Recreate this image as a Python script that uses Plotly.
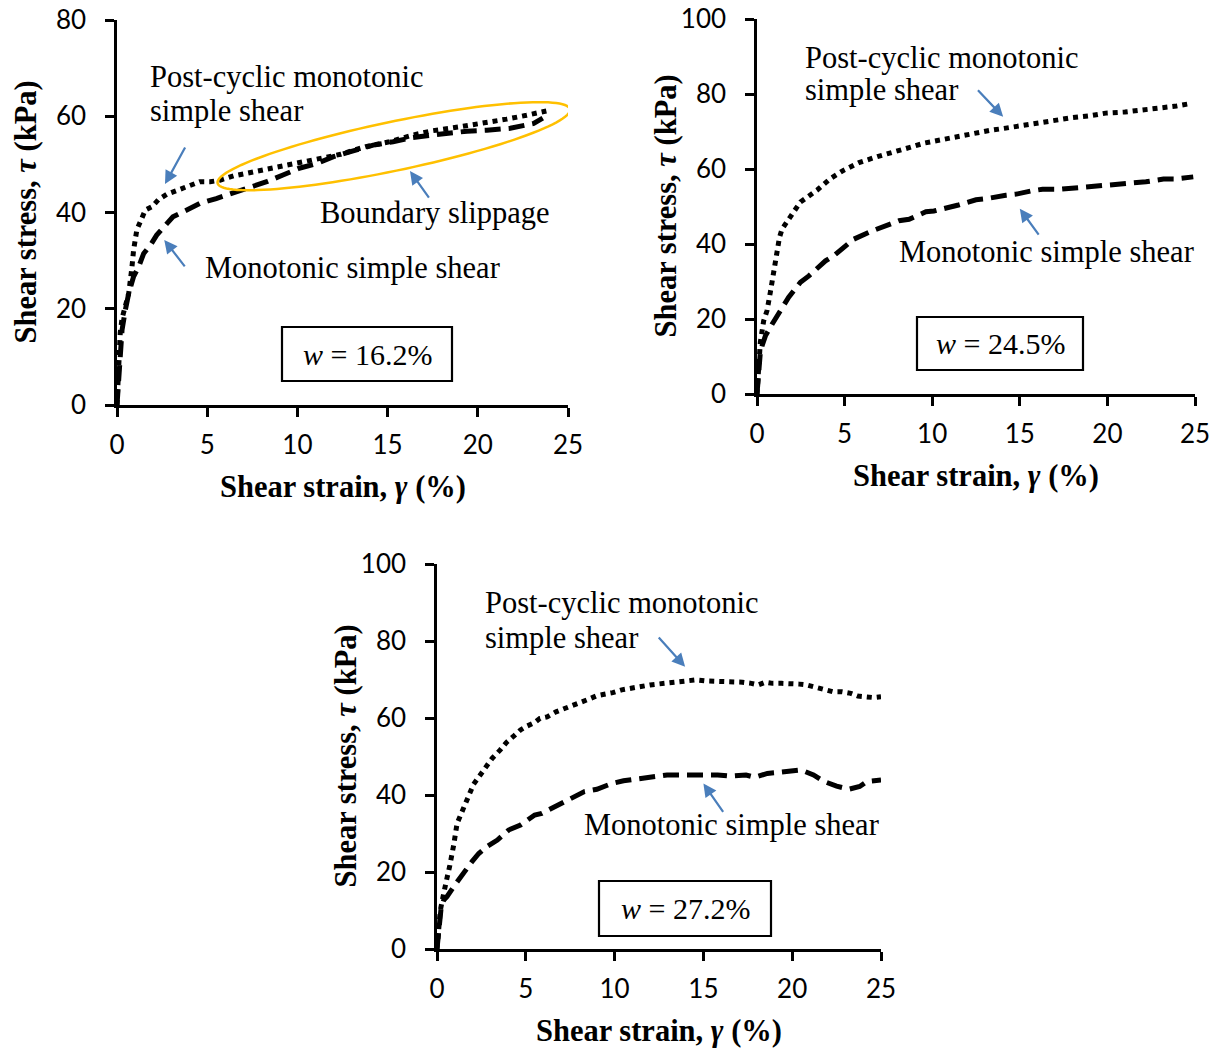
import numpy as np
import plotly.graph_objects as go

# ---------------- data ----------------
# Panel 1: w = 16.2 %
pc1_x = [0, 0.05, 0.09, 0.18, 0.28, 0.46, 0.65, 0.83, 0.92, 1.1, 1.3, 1.57, 1.94, 2.3, 2.77, 3.5, 4.06, 4.6,
         5.17, 5.7, 6.46, 7.4, 8.3, 9.4, 10.1, 11.3, 12.4, 13.8, 15.1, 16.4, 17.5, 19.0, 20.3, 21.6, 22.7, 23.8]
pc1_y = [0, 5, 11.4, 15, 18, 20.8, 23.2, 28.7, 32.2, 36.4, 38.4, 40.5, 41.2, 42.7, 43.8, 44.8, 45.7, 46.4,
         46.4, 46.7, 47.6, 48.3, 48.8, 49.7, 50.2, 51.2, 52.1, 53.7, 54.7, 56.1, 57.0, 57.8, 58.5, 59.4, 60.2, 61.1]
mo1_x = [0, 0.05, 0.09, 0.18, 0.28, 0.46, 0.65, 0.92, 1.2, 1.48, 1.85, 2.2, 2.77, 3.1, 3.87, 4.6, 5.5, 6.5,
         7.4, 8.3, 9.2, 10.1, 11.1, 12.0, 12.9, 14.2, 15.3, 16.4, 17.5, 18.6, 19.4, 20.5, 21.8, 23.1, 23.6]
mo1_y = [0, 3, 8, 12.1, 15.6, 19.7, 23.2, 26.7, 28.7, 31.5, 33.2, 35.3, 37.7, 39.1, 40.5, 41.9, 42.9, 44.1,
         45.4, 46.4, 47.8, 49.2, 50.2, 51.6, 52.6, 54.0, 54.7, 55.6, 56.1, 56.6, 56.9, 57.1, 57.5, 58.5, 59.6]

# Panel 2: w = 24.5 %
pc2_x = [0, 0.06, 0.13, 0.19, 0.38, 0.57, 0.76, 0.95, 1.09, 1.28, 1.43, 1.81, 2.48, 3.44, 4.2, 4.96, 5.82,
         6.87, 7.73, 8.68, 9.54, 10.6, 11.45, 12.3, 13.3, 14.2, 15.2, 16.1, 17.1, 18.0, 19.0, 19.9, 21.0,
         22.0, 23.0, 23.95, 24.8]
pc2_y = [0, 4, 9.3, 13.8, 19.5, 22.2, 27.1, 32.9, 36.4, 41.7, 44.0, 46.8, 51.2, 54.4, 57.5, 59.7, 61.7,
         63.3, 64.6, 65.7, 66.9, 67.9, 68.7, 69.5, 70.3, 70.9, 71.7, 72.4, 73.1, 73.7, 74.2, 74.9, 75.2,
         75.7, 76.3, 76.8, 77.5]
mo2_x = [0, 0.1, 0.19, 0.29, 0.48, 0.86, 1.43, 1.81, 2.48, 2.96, 3.91, 4.39, 5.06, 5.53, 6.58, 7.16, 8.1,
         8.68, 9.64, 10.1, 11.2, 11.5, 12.5, 13.1, 14.2, 14.8, 15.7, 16.3, 17.3, 17.85, 18.6, 19.2, 20.1,
         20.7, 21.7, 22.2, 23.2, 23.8, 24.9]
mo2_y = [0, 7.5, 11.1, 12.9, 15.5, 18.6, 23.1, 25.8, 29.8, 31.5, 35.5, 36.9, 39.5, 41.3, 43.5, 44.4, 46.2,
         46.6, 48.6, 48.8, 50.0, 50.4, 51.8, 52.1, 53.0, 53.3, 54.2, 54.6, 54.6, 54.8, 55.3, 55.3, 55.7,
         55.9, 56.4, 56.6, 57.3, 57.3, 57.9]

# Panel 3: w = 27.2 %
pc3_x = [0, 0.09, 0.19, 0.34, 0.41, 0.56, 0.71, 0.84, 0.94, 1.13, 1.35, 1.6, 1.84, 2.06, 2.44, 2.81, 3.1,
         3.56, 3.9, 4.3, 4.7, 5.07, 5.5, 5.8, 6.2, 6.7, 7.0, 7.7, 8.07, 8.5, 9.0, 9.5, 9.9, 10.4, 11.0,
         11.4, 12.0, 12.4, 12.85, 13.3, 13.8, 14.3, 14.6, 15.2, 15.7, 16.1, 16.6, 17.2, 17.7, 18.1, 18.5,
         18.9, 19.4, 19.9, 20.4, 20.8, 21.3, 21.8, 22.3, 22.8, 23.3, 23.7, 24.2, 24.6, 25.0]
pc3_y = [0, 5.8, 10.1, 13.6, 15.8, 18.4, 21.4, 24.0, 27.0, 32.6, 35.2, 38.3, 40.4, 42.8, 45.2, 47.5, 49.5,
         51.7, 53.6, 55.2, 56.9, 57.9, 58.8, 59.9, 60.3, 61.6, 62.1, 63.4, 64.2, 64.8, 65.8, 66.1, 66.6,
         67.3, 67.9, 68.3, 68.6, 68.8, 69.0, 69.2, 69.4, 69.7, 69.9, 69.6, 69.6, 69.4, 69.4, 69.3, 69.0,
         68.6, 69.3, 69.0, 69.0, 69.0, 68.8, 68.6, 68.1, 67.4, 66.8, 66.8, 66.4, 65.7, 65.4, 65.3, 65.5]
mo3_x = [0, 0.09, 0.15, 0.23, 0.38, 0.56, 0.94, 1.2, 1.6, 1.97, 2.35, 2.8, 3.4, 4.03, 4.7, 5.5, 5.9, 6.85,
         7.4, 8.3, 9.0, 9.85, 10.5, 11.35, 12.0, 12.95, 13.5, 14.3, 14.9, 15.8, 16.5, 17.4, 17.9, 18.6,
         19.1, 19.9, 20.5, 21.2, 21.8, 22.5, 23.2, 23.8, 24.2, 25.0]
mo3_y = [0, 5.8, 8.4, 10.6, 12.7, 13.6, 16.2, 17.9, 20.5, 22.7, 24.8, 26.6, 28.3, 30.9, 32.2, 34.8, 35.2,
         37.4, 38.5, 40.9, 41.5, 43.0, 43.7, 44.3, 44.8, 45.2, 45.2, 45.2, 45.4, 45.2, 44.9, 45.2, 44.6,
         45.6, 45.8, 46.1, 46.5, 45.2, 43.5, 42.3, 41.5, 42.2, 43.5, 43.9]

x_ticks = [0, 5, 10, 15, 20, 25]
y1_ticks = [0, 20, 40, 60, 80]
y23_ticks = [0, 20, 40, 60, 80, 100]
w_labels = ["16.2", "24.5", "27.2"]

# ---------------- layout helpers ----------------
W, H = 1225, 1052


def px(x):
    return x / W


def py(y):
    return 1 - y / H


# plot areas in pixels: (left, right, top, bottom)
areas = [(117, 568, 20, 405), (757, 1195, 19, 394), (437, 881, 564, 949)]

SERIF = "Liberation Serif, Times New Roman, serif"
SANS = "Lato, Calibri, Carlito, sans-serif"

fig = go.Figure()

series = [(pc1_x, pc1_y, mo1_x, mo1_y), (pc2_x, pc2_y, mo2_x, mo2_y), (pc3_x, pc3_y, mo3_x, mo3_y)]
for i, (px_, py_, mx_, my_) in enumerate(series):
    xa = "x" if i == 0 else f"x{i+1}"
    ya = "y" if i == 0 else f"y{i+1}"
    fig.add_trace(go.Scatter(x=px_, y=py_, mode="lines", xaxis=xa, yaxis=ya, showlegend=False,
                             line=dict(color="black", width=5, dash="5px,5px")))
    fig.add_trace(go.Scatter(x=mx_, y=my_, mode="lines", xaxis=xa, yaxis=ya, showlegend=False,
                             line=dict(color="black", width=5, dash="16px,8px")))

axis_common = dict(showline=True, linecolor="black", linewidth=2.5, ticks="outside", ticklen=9,
                   tickwidth=2.5, tickcolor="black", showgrid=False, zeroline=False, automargin=False,
                   tickfont=dict(family=SANS, size=26, color="black"), fixedrange=True)

layout = dict(width=W, height=H, margin=dict(l=0, r=0, t=0, b=0, autoexpand=False), autosize=False,
              paper_bgcolor="white", plot_bgcolor="white", showlegend=False)
for i, (l, r, t, b) in enumerate(areas):
    xk = "xaxis" if i == 0 else f"xaxis{i+1}"
    yk = "yaxis" if i == 0 else f"yaxis{i+1}"
    ymax = 80 if i == 0 else 100
    yt = y1_ticks if i == 0 else y23_ticks
    layout[xk] = dict(axis_common, domain=[px(l), px(r)], range=[0, 25], tickvals=x_ticks,
                      anchor="y" if i == 0 else f"y{i+1}", ticklabelstandoff=6)
    layout[yk] = dict(axis_common, domain=[py(b), py(t)], range=[0, ymax], tickvals=yt,
                      anchor="x" if i == 0 else f"x{i+1}", ticklabelstandoff=14)
fig.update_layout(**layout)

annotations = []
shapes = []

# axis titles
for i, (l, r, t, b) in enumerate(areas):
    annotations.append(dict(xref="paper", yref="paper", x=px((l + r) / 2), y=py(b + 82),
                            text="<b>Shear strain, <i>γ</i> (%)</b>", showarrow=False,
                            xanchor="center", yanchor="middle",
                            font=dict(family=SERIF, size=30.5, color="black")))
    annotations.append(dict(xref="paper", yref="paper", x=px(l - 92), y=py((t + b) / 2),
                            text="<b>Shear stress, <i>τ</i> (kPa)</b>", showarrow=False, textangle=-90,
                            xanchor="center", yanchor="middle",
                            font=dict(family=SERIF, size=30.5, color="black")))

# curve labels (left x, baseline y in pixels)
labels = [
    (148, 87, "Post-cyclic monotonic"), (148, 121, "simple shear"),
    (203, 278, "Monotonic simple shear"), (318, 223, "Boundary slippage"),
    (803, 68, "Post-cyclic monotonic"), (803, 100, "simple shear"),
    (897, 262, "Monotonic simple shear"),
    (483, 613, "Post-cyclic monotonic"), (483, 648, "simple shear"),
    (582, 835, "Monotonic simple shear"),
]
for (lx, by, txt) in labels:
    annotations.append(dict(xref="paper", yref="paper", x=px(lx), y=py(by - 10), text=txt,
                            showarrow=False, xanchor="left", yanchor="middle",
                            font=dict(family=SERIF, size=30.5, color="black")))

# boxes with water content
boxes = [(282, 452, 327, 381), (917, 1083, 317, 370), (599, 771, 881, 936)]
for (l, r, t, b), wl in zip(boxes, w_labels):
    shapes.append(dict(type="rect", xref="paper", yref="paper", x0=px(l), x1=px(r), y0=py(b), y1=py(t),
                       line=dict(color="black", width=2.2), fillcolor="white", layer="above"))
    annotations.append(dict(xref="paper", yref="paper", x=px((l + r) / 2), y=py((t + b) / 2),
                            text=f"<i>w</i> = {wl}%", showarrow=False, xanchor="center", yanchor="middle",
                            font=dict(family=SERIF, size=30, color="black")))

# blue arrows (tail -> head, data coords)
arrows = [
    ("x", "y", (3.82, 53.8), (2.66, 45.9)),
    ("x", "y", (3.82, 28.5), (2.62, 34.3)),
    ("x", "y", (17.35, 42.8), (16.24, 48.6)),
    ("x2", "y2", (12.53, 81.4), (14.05, 73.9)),
    ("x2", "y2", (16.14, 42.1), (15.0, 49.4)),
    ("x3", "y3", (12.41, 81.3), (13.97, 73.3)),
    ("x3", "y3", (16.17, 35.2), (15.0, 43.0)),
]
for xr, yr, tail, head in arrows:
    annotations.append(dict(xref=xr, yref=yr, axref=xr, ayref=yr, x=head[0], y=head[1],
                            ax=tail[0], ay=tail[1], text="", showarrow=True, arrowhead=2,
                            arrowsize=1.2, arrowwidth=2.2, arrowcolor="#4A7EBB"))

# orange ellipse around boundary slippage region (panel 1)
l, r, t, b = areas[0]
xs = (r - l) / 25.0
ys = (b - t) / 80.0
cx, cy = 15.34, 53.78
a_px, b_px, ang = 180.0, 24.5, np.deg2rad(11.85)
tt = np.linspace(0, 2 * np.pi, 120)
dx = a_px * np.cos(tt) * np.cos(ang) - b_px * np.sin(tt) * np.sin(ang)
dy = a_px * np.cos(tt) * np.sin(ang) + b_px * np.sin(tt) * np.cos(ang)
ex = cx + dx / xs
ey = cy + dy / ys
path = "M " + " L ".join(f"{x:.4f},{y:.4f}" for x, y in zip(ex, ey)) + " Z"
shapes.append(dict(type="path", xref="x", yref="y", path=path, line=dict(color="#FFC000", width=2.5)))

fig.update_layout(annotations=annotations, shapes=shapes)
fig.write_html("out.html")
